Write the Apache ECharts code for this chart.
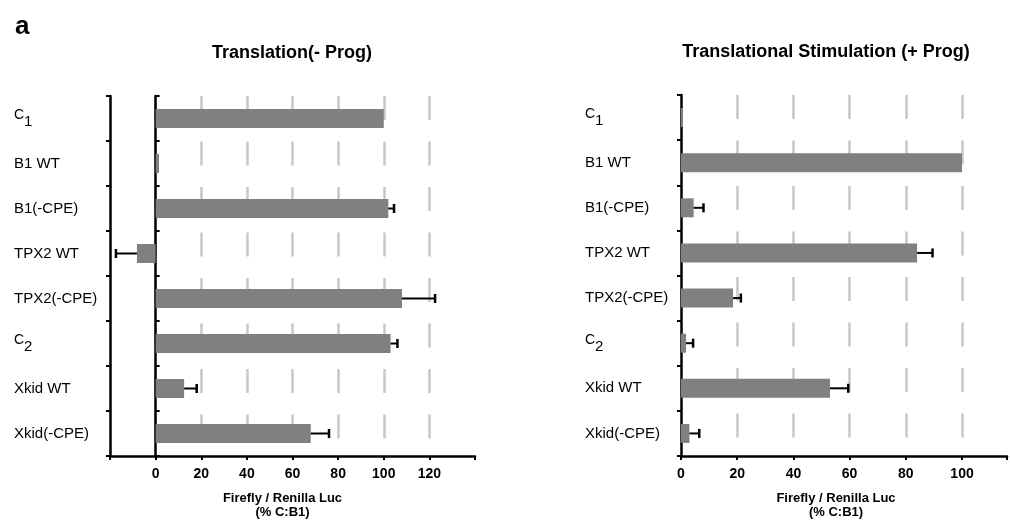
<!DOCTYPE html>
<html>
<head>
<meta charset="utf-8">
<script src="https://cdn.jsdelivr.net/npm/echarts@6/dist/echarts.min.js"></script>
<style>
    html, body { margin: 0; padding: 0; background: #fff; }
    #chart { width: 1010px; height: 524px; }
</style>
</head>
<body>
<div id="chart"></div>
<script>
var categories = ['C1', 'B1 WT', 'B1(-CPE)', 'TPX2 WT', 'TPX2(-CPE)', 'C2', 'Xkid WT', 'Xkid(-CPE)'];

// Translation (- Prog)
var left_values = [100, 1.5, 102, -8.2, 108, 103, 12.5, 68];
var left_errors = [0, 0, 2.5, 9.2, 14.5, 3, 5.5, 8];

// Translational Stimulation (+ Prog)
var right_values = [0.7, 100, 4.5, 84, 18.5, 1.8, 53, 3];
var right_errors = [0, 0, 3.5, 5.5, 2.8, 2.5, 6.5, 3.5];

var left_ticks = [0, 20, 40, 60, 80, 100, 120];
var right_ticks = [0, 20, 40, 60, 80, 100];

var dom = document.getElementById('chart');
var chart = echarts.init(dom, null, {renderer: 'canvas'});

var font = 'Arial, "Liberation Sans", sans-serif';

function catLabel(val) {
    if (val === 'C1') return '{c|C}{s|1}';
    if (val === 'C2') return '{c|C}{s|2}';
    return '{t|' + val + '}';
}

var labelRich = {
    t: {fontSize: 15, fontFamily: font, color: '#000'},
    c: {fontSize: 14, fontFamily: font, color: '#000', padding: [0, 0, 7, 0]},
    s: {fontSize: 15, fontFamily: font, color: '#000', padding: [7, 0, 0, 0]}
};

function errData(values, errors) {
    var out = [];
    for (var i = 0; i < values.length; i++) {
        if (errors[i] > 0) {
            var sign = values[i] < 0 ? -1 : 1;
            out.push([values[i], i, values[i] + sign * errors[i]]);
        }
    }
    return out;
}

function renderErr(params, api) {
    var start = api.coord([api.value(0), api.value(1)]);
    var end = api.coord([api.value(2), api.value(1)]);
    return {
        type: 'group',
        children: [{
            type: 'line',
            shape: {x1: start[0], y1: start[1], x2: end[0], y2: end[1]},
            style: {stroke: '#000', lineWidth: 2}
        }, {
            type: 'line',
            shape: {x1: end[0], y1: end[1] - 4.5, x2: end[0], y2: end[1] + 4.5},
            style: {stroke: '#000', lineWidth: 2.5}
        }]
    };
}

function valueAxis(gridIndex, min, max, ticks, namePad) {
    return {
        type: 'value',
        gridIndex: gridIndex,
        min: min,
        max: max,
        interval: 20,
        axisLine: {show: true, onZero: false, lineStyle: {color: '#000', width: 2.5}},
        axisTick: {show: true, length: 4, lineStyle: {color: '#000', width: 2}},
        axisLabel: {
            margin: 11,
            fontSize: 14,
            fontWeight: 'bold',
            fontFamily: font,
            color: '#000',
            formatter: function (v) {
                return ticks.indexOf(v) > -1 ? String(v) : '';
            }
        },
        splitLine: {
            show: true,
            showMinLine: false,
            showMaxLine: false,
            lineStyle: {color: '#c8c8c8', width: 2.5, type: [24, 21.5]}
        },
        name: 'Firefly / Renilla Luc\n(% C:B1)',
        nameLocation: 'middle',
        nameGap: 35,
        nameTextStyle: {
            fontSize: 13,
            fontWeight: 'bold',
            fontFamily: font,
            color: '#000',
            lineHeight: 14,
            padding: namePad
        }
    };
}

function catAxis(gridIndex, onZero, showLabel, margin) {
    return {
        type: 'category',
        gridIndex: gridIndex,
        data: categories,
        inverse: true,
        axisLine: {show: true, onZero: onZero, lineStyle: {color: '#000', width: 2.5}},
        axisTick: {show: true, length: 4, lineStyle: {color: '#000', width: 2}},
        axisLabel: {
            show: showLabel,
            align: 'left',
            margin: margin,
            formatter: catLabel,
            rich: labelRich
        },
        splitLine: {show: false}
    };
}

var option = {
    animation: false,
    backgroundColor: '#fff',
    graphic: [{
        type: 'text',
        left: 15,
        top: 14,
        style: {text: 'a', font: 'bold 26px ' + font, fill: '#000'}
    }, {
        type: 'text',
        x: 292,
        y: 53,
        style: {text: 'Translation(- Prog)', font: 'bold 18px ' + font, fill: '#000', align: 'center', verticalAlign: 'middle'}
    }, {
        type: 'text',
        x: 826,
        y: 52,
        style: {text: 'Translational Stimulation (+ Prog)', font: 'bold 18px ' + font, fill: '#000', align: 'center', verticalAlign: 'middle'}
    }],
    grid: [
        {left: 110, right: 535, top: 96, bottom: 64},
        {left: 681, right: 2, top: 95, bottom: 65}
    ],
    xAxis: [
        valueAxis(0, -20, 140, left_ticks, [0, 20, 0, 0]),
        valueAxis(1, 0, 116, right_ticks, [0, 16, 0, 0])
    ],
    yAxis: [
        catAxis(0, false, true, 96),
        catAxis(0, true, false, 8),
        catAxis(1, true, true, 96)
    ],
    series: [{
        name: 'Translation(- Prog)',
        type: 'bar',
        xAxisIndex: 0,
        yAxisIndex: 0,
        barWidth: 19,
        itemStyle: {color: '#808080'},
        data: left_values
    }, {
        name: 'Translation(- Prog) error',
        type: 'custom',
        xAxisIndex: 0,
        yAxisIndex: 0,
        renderItem: renderErr,
        encode: {x: [0, 2], y: 1},
        z: 3,
        data: errData(left_values, left_errors)
    }, {
        name: 'Translational Stimulation (+ Prog)',
        type: 'bar',
        xAxisIndex: 1,
        yAxisIndex: 2,
        barWidth: 19,
        itemStyle: {color: '#808080'},
        data: right_values
    }, {
        name: 'Translational Stimulation (+ Prog) error',
        type: 'custom',
        xAxisIndex: 1,
        yAxisIndex: 2,
        renderItem: renderErr,
        encode: {x: [0, 2], y: 1},
        z: 3,
        data: errData(right_values, right_errors)
    }]
};

chart.setOption(option);
</script>
</body>
</html>
